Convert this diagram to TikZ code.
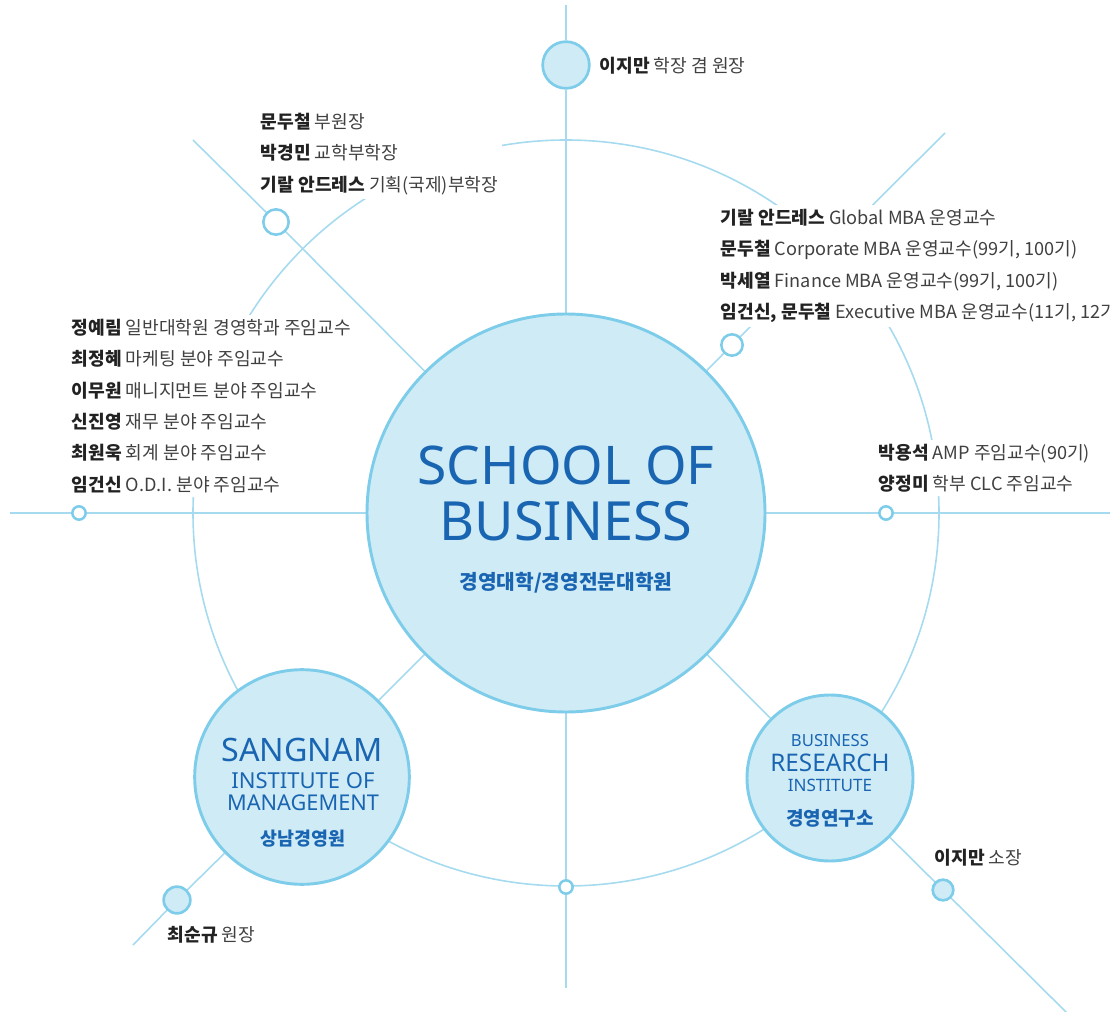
\documentclass[tikz,border=0pt]{standalone}
\usepackage{fontspec}
\setmainfont{Noto Sans CJK KR}
\newfontfamily\latinfont{Noto Sans}
\usepackage{tikz}
\usetikzlibrary{backgrounds}
\definecolor{spoke}{RGB}{166,219,239}
\definecolor{rim}{RGB}{125,204,233}
\definecolor{bubble}{RGB}{207,236,246}
\definecolor{title}{RGB}{26,101,178}
\definecolor{nametext}{RGB}{34,34,34}
\definecolor{roletext}{RGB}{64,64,64}
\newcommand{\who}[1]{{\bfseries\color{nametext}#1}}
\tikzstyle{hub}=[circle, draw=rim, fill=bubble, line width=2.2pt, inner sep=0pt]
\tikzstyle{knob}=[circle, draw=rim, fill=bubble, line width=2pt, inner sep=0pt]
\tikzstyle{dot}=[circle, draw=rim, fill=white, line width=1.9pt, inner sep=0pt]
\tikzstyle{spokeline}=[draw=spoke, line width=1.2pt]
\tikzstyle{roster}=[align=left, anchor=north west, fill=white, inner sep=3pt, text=roletext,
  font=\fontsize{13.6}{23.6}\selectfont]
\tikzstyle{tag}=[anchor=west, inner sep=0pt, text=roletext, font=\fontsize{13.6}{15}\selectfont]
\tikzstyle{caption}=[anchor=base, inner sep=0pt, text=title]
\tikzset{every picture/.style={
    line width=1.2pt
  }
}

\begin{document}
\begin{tikzpicture}[x=0.75pt, y=-0.75pt]
  \useasboundingbox (0,0) rectangle (1110,1012);
  % circles
  \node[hub, minimum size=298.5pt] at (566,513) (school) {};
  \node[hub, minimum size=161pt] at (302,777) (sangnam) {};
  \node[hub, minimum size=124.5pt] at (830,778) (research) {};
  \node[knob, minimum size=35pt] at (566,65) (dean) {};
  \node[knob, minimum size=20pt] at (177,900) (sangnamhead) {};
  \node[knob, minimum size=15.5pt] at (943,890) (researchhead) {};
  \node[dot, minimum size=19pt] at (276,222) (vice) {};
  \node[dot, minimum size=16pt] at (732,345) (mba) {};
  \node[dot, minimum size=10pt] at (79,513) (faculty) {};
  \node[dot, minimum size=10pt] at (886,513) (amp) {};
  \node[dot, minimum size=10pt] at (566,887) (rimbottom) {};
  % free ends of the spokes
  \coordinate (endtop) at (566,5);
  \coordinate (endbottom) at (566,988);
  \coordinate (endleft) at (10,513);
  \coordinate (endright) at (1112,513);
  \coordinate (endtl) at (193,140);
  \coordinate (endtr) at (945,133);
  \coordinate (endbl) at (133,945);
  \coordinate (endbr) at (1068,1014);

  % texts in the circles
  \node[caption, font=\latinfont\fontsize{40}{40}\selectfont] at (566,484) (schoolA) {SCHOOL OF};
  \node[caption, font=\latinfont\fontsize{40.5}{40}\selectfont] at (566,540) (schoolB) {BUSINESS};
  \node[caption, font=\bfseries\fontsize{15.2}{16}\selectfont] at (566,589) (schoolC) {경영대학/경영전문대학원};
  \node[caption, font=\latinfont\fontsize{24.2}{24}\selectfont] at (302,761) (sangnamA) {SANGNAM};
  \node[caption, font=\latinfont\fontsize{16.5}{16}\selectfont] at (303,788) (sangnamB) {INSTITUTE OF};
  \node[caption, font=\latinfont\fontsize{16.3}{16}\selectfont] at (303,810) (sangnamC) {MANAGEMENT};
  \node[caption, font=\bfseries\fontsize{13.8}{14}\selectfont] at (303,845) (sangnamD) {상남경영원};
  \node[caption, font=\latinfont\fontsize{12.5}{13}\selectfont] at (830,746) (researchA) {BUSINESS};
  \node[caption, font=\latinfont\fontsize{18.2}{18}\selectfont] at (830,771) (researchB) {RESEARCH};
  \node[caption, font=\latinfont\fontsize{12.8}{13}\selectfont] at (830,791) (researchC) {INSTITUTE};
  \node[caption, font=\bfseries\fontsize{14.3}{14}\selectfont] at (830,825) (researchD) {경영연구소};

  % people
  \node[tag] at (599,66) (deanname) {\who{이지만} 학장 겸 원장};
  \node[tag] at (934,858) (researchname) {\who{이지만} 소장};
  \node[tag] at (167,935) (sangnamname) {\who{최순규} 원장};
  \node[roster] at (256,108) (vicelist) {\who{문두철} 부원장\\
    \who{박경민} 교학부학장\\
    \who{기랄 안드레스} 기획(국제)부학장};
  \node[roster] at (716,204) (mbalist) {\who{기랄 안드레스} Global MBA 운영교수\\
    \who{문두철} Corporate MBA 운영교수(99기, 100기)\\
    \who{박세열} Finance MBA 운영교수(99기, 100기)\\
    \who{임건신, 문두철} Executive MBA 운영교수(11기, 12기)};
  \node[roster] at (67,314) (facultylist) {\who{정예림} 일반대학원 경영학과 주임교수\\
    \who{최정혜} 마케팅 분야 주임교수\\
    \who{이무원} 매니지먼트 분야 주임교수\\
    \who{신진영} 재무 분야 주임교수\\
    \who{최원욱} 회계 분야 주임교수\\
    \who{임건신} O.D.I. 분야 주임교수};
  \node[roster] at (874,439) (amplist) {\who{박용석} AMP 주임교수(90기)\\
    \who{양정미} 학부 CLC 주임교수};

  \begin{scope}[on background layer]
    \draw[spokeline] (school.center) circle[radius=373];
    \draw[spokeline] (endtop) -- (dean) -- (school);
    \draw[spokeline] (school) -- (rimbottom) -- (endbottom);
    \draw[spokeline] (endleft) -- (faculty) -- (school);
    \draw[spokeline] (school) -- (amp) -- (endright);
    \draw[spokeline] (endtl) -- (vice) -- (school);
    \draw[spokeline] (endtr) -- (mba) -- (school);
    \draw[spokeline] (school) -- (sangnam) -- (sangnamhead) -- (endbl);
    \draw[spokeline] (school) -- (research) -- (researchhead) -- (endbr);
  \end{scope}
\end{tikzpicture}
\end{document}
